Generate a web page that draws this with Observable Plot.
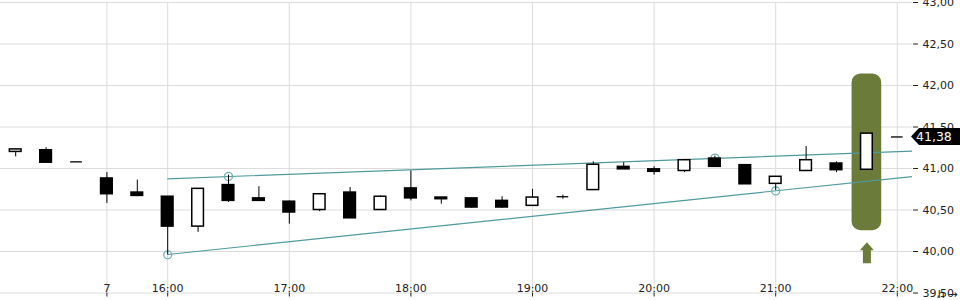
<!DOCTYPE html>
<html>
<head>
<meta charset="utf-8">
<script src="https://cdn.jsdelivr.net/npm/d3@7"></script>
<script src="https://cdn.jsdelivr.net/npm/@observablehq/plot@0.6"></script>
<style>
  html, body { margin: 0; padding: 0; background: #fff; }
  svg { display: block; }
</style>
</head>
<body>
<div id="chart"></div>
<script>
// ---- data ----
const times  = ["14:45","15:00","15:15","15:30","15:45","16:00","16:15","16:30","16:45","17:00",
                "17:15","17:30","17:45","18:00","18:15","18:30","18:45","19:00","19:15","19:30",
                "19:45","20:00","20:15","20:30","20:45","21:00","21:15","21:30","21:45","22:00"];
const opens  = [41.20,41.22,41.08,40.88,40.71,40.66,40.30,40.80,40.64,40.60,
                40.50,40.71,40.50,40.76,40.65,40.64,40.61,40.55,40.66,40.74,
                41.02,40.99,40.97,41.12,41.04,40.815,40.97,41.06,40.985,41.38];
const highs  = [41.24,41.25,41.08,40.95,40.86,40.66,40.755,40.92,40.78,40.61,
                40.69,40.77,40.67,40.97,40.65,40.64,40.66,40.75,40.68,41.08,
                41.07,41.02,41.11,41.15,41.04,40.90,41.265,41.08,41.42,41.38];
const lows   = [41.14,41.07,41.08,40.58,40.66,39.96,40.23,40.59,40.61,40.33,
                40.48,40.40,40.50,40.61,40.57,40.52,40.52,40.55,40.63,40.74,
                40.99,40.92,40.95,41.02,40.81,40.735,40.97,40.95,40.985,41.38];
const closes = [41.23,41.07,41.08,40.69,40.67,40.30,40.755,40.61,40.61,40.47,
                40.69,40.40,40.66,40.64,40.63,40.53,40.53,40.65,40.66,41.045,
                40.99,40.96,41.10,41.02,40.81,40.90,41.10,40.98,41.42,41.38];

const xTickTimes  = ["15:30","16:00","17:00","18:00","19:00","20:00","21:00","22:00"];
const xTickLabels = ["7","16:00","17:00","18:00","19:00","20:00","21:00","22:00"];
const yTicks = [39.5,40,40.5,41,41.5,42,42.5,43];

const upperTrend = [{t:"16:00", v:40.876}, {t:"22:08", v:41.21}];
const lowerTrend = [{t:"16:00", v:39.964}, {t:"22:08", v:40.905}];
const touchTimes  = ["16:00","16:30","20:30","21:00"];
const touchValues = [39.96, 40.905, 41.125, 40.73];

const highlightTime = "21:45";
const highlightLow = 40.25, highlightHigh = 42.14;
const arrowValue = 39.986;
const lastPrice = 41.38;

// ---- helpers ----
const toH = s => { const [h, m] = s.split(":").map(Number); return h + m / 60; };
const fmt = v => v.toFixed(2).replace(".", ",");

const candles = times.map((t, i) => ({h: toH(t), open: opens[i], high: highs[i], low: lows[i], close: closes[i]}));
const bodies = candles.filter(d => d.open !== d.close);
const dojis  = candles.filter(d => d.open === d.close);
const ticks = xTickTimes.map((t, i) => ({h: toH(t), label: xTickLabels[i]}));
const up = upperTrend.map(d => ({h: toH(d.t), v: d.v}));
const lo = lowerTrend.map(d => ({h: toH(d.t), v: d.v}));
const touches = touchTimes.map((t, i) => ({h: toH(t), v: touchValues[i]}));
const hl = [{h: toH(highlightTime), lo: highlightLow, hi: highlightHigh}];

const half = 0.048;     // candle half width (hours)
const hlHalf = 0.122;   // highlight half width (hours)
const teal = "#4f9a9e";
const olive = "#6b7b3a";

const arrowSymbol = {
  draw(ctx) {
    ctx.moveTo(0, -10.5);
    ctx.lineTo(7, -2.3);
    ctx.lineTo(4, -2.3);
    ctx.lineTo(4, 10.5);
    ctx.lineTo(-4, 10.5);
    ctx.lineTo(-4, -2.3);
    ctx.lineTo(-7, -2.3);
    ctx.closePath();
  }
};

const chart = Plot.plot({
  width: 960,
  height: 300,
  marginLeft: 0,
  marginRight: 48,
  marginTop: 2,
  marginBottom: 7.5,
  style: {fontFamily: "DejaVu Sans", fontSize: "11px", color: "#222", background: "#fff"},
  x: {type: "linear", domain: [14.625, 22.125], axis: null},
  y: {domain: [39.5, 43], axis: null},
  marks: [
    Plot.gridY(yTicks, {stroke: "#dcdcdc", strokeOpacity: 1}),
    Plot.gridX(ticks.map(d => d.h), {stroke: "#dcdcdc", strokeOpacity: 1}),
    Plot.axisY(yTicks, {anchor: "right", tickSize: 5, tickPadding: 5, tickFormat: fmt, stroke: "#222", fill: "#222", fontSize: 11}),
    Plot.axisX(ticks.map(d => d.h), {anchor: "bottom", tickSize: 4, tickFormat: () => "", stroke: "#222"}),
    Plot.text(ticks, {x: "h", text: "label", frameAnchor: "bottom", lineAnchor: "bottom", dy: -1, fill: "#222", fontSize: 11}),
    Plot.rect(hl, {x1: d => d.h - hlHalf, x2: d => d.h + hlHalf, y1: "lo", y2: "hi", fill: olive, rx: 9}),
    Plot.dot(hl, {x: "h", y: () => arrowValue, symbol: arrowSymbol, fill: olive, stroke: null, r: 5}),
    Plot.line(up, {x: "h", y: "v", stroke: teal, strokeWidth: 1.2, clip: true}),
    Plot.line(lo, {x: "h", y: "v", stroke: teal, strokeWidth: 1.2, clip: true}),
    Plot.dot(touches, {x: "h", y: "v", r: 4, stroke: "#6fb0b3", strokeWidth: 1.3, fill: "none"}),
    Plot.ruleX(candles, {x: "h", y1: "low", y2: "high", stroke: "#000", strokeWidth: 1}),
    Plot.rect(bodies, {x1: d => d.h - half, x2: d => d.h + half, y1: "open", y2: "close",
      fill: d => d.close > d.open ? "#fff" : "#000", stroke: "#000", strokeWidth: 1.5}),
    Plot.ruleY(dojis, {y: "open", x1: d => d.h - half, x2: d => d.h + half, stroke: "#000", strokeWidth: 1.3})
  ]
});

document.getElementById("chart").appendChild(chart);

// price tag on the right, positioned with Plot's scales
const ys = chart.scale("y").apply(lastPrice);
const xr = chart.scale("x").range[1];
const svg = d3.select(chart);
const tagLeft = xr - 1, tagH = 17;
svg.append("path")
  .attr("d", `M${tagLeft},${ys} L${tagLeft + 8},${ys - tagH / 2} L960,${ys - tagH / 2} L960,${ys + tagH / 2} L${tagLeft + 8},${ys + tagH / 2} Z`)
  .attr("fill", "#000");
svg.append("text")
  .attr("x", tagLeft + 5)
  .attr("y", ys)
  .attr("dy", "0.36em")
  .attr("text-anchor", "start")
  .attr("fill", "#fff")
  .attr("font-size", 12.5)
  .attr("font-family", "DejaVu Sans")
  .text(fmt(lastPrice));
</script>
</body>
</html>
